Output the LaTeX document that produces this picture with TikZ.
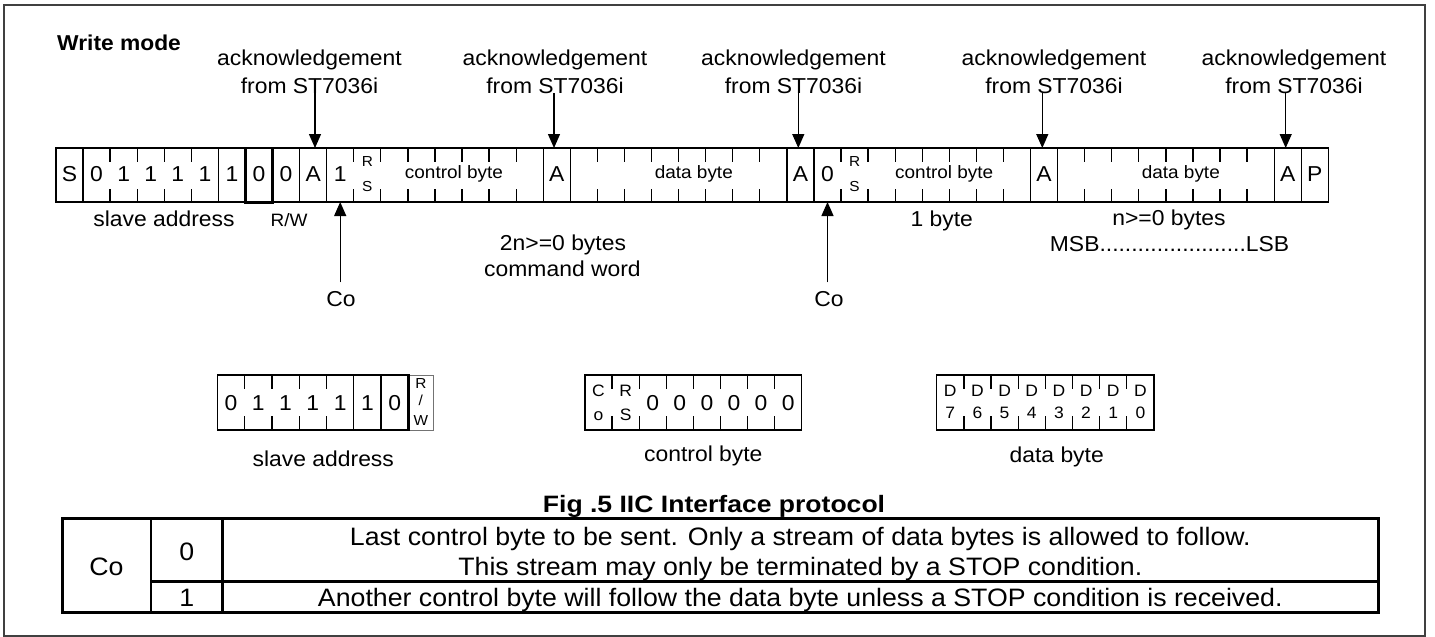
\documentclass[tikz,border=0pt]{standalone}
\usepackage{fontspec}
\setmainfont{Liberation Sans}[FakeStretch=1.06]
\newfontfamily\capfont{Liberation Sans}[FakeStretch=1.12]
\usetikzlibrary{arrows.meta}
\begin{document}
\begin{tikzpicture}[x=1pt,y=-1pt]
\tikzset{
  mainf/.style={font=\fontsize{21.6}{26}\selectfont, inner sep=0pt, anchor=base},
  smallf/.style={font=\fontsize{17.9}{21}\selectfont, inner sep=0pt, anchor=base},
  tinyf/.style={font=\fontsize{14.5}{16}\selectfont, inner sep=0pt, anchor=base},
  bitf/.style={font=\fontsize{16.5}{19}\selectfont, inner sep=0pt, anchor=base},
  tabf/.style={font=\fontsize{25.2}{30}\selectfont, inner sep=0pt, anchor=base},
  boldf/.style={font=\bfseries\fontsize{21.5}{24}\selectfont, inner sep=0pt, anchor=base},
  capf/.style={font=\capfont\bfseries\fontsize{23.7}{27}\selectfont, inner sep=0pt, anchor=base},
  cell/.style={line width=1.3pt},
  thickcell/.style={line width=2.4pt},
  tabline/.style={line width=2.5pt},
  ackarrow/.style={line width=1.3pt, -{Triangle[width=12pt,length=14pt]}},
}
\useasboundingbox (0,0) rectangle (1435,637);
% outer frame
\draw[line width=2pt, draw=black!75] (4,5) rectangle (1425,635.7);
\node[boldf, anchor=base west] (title) at (57,50) {Write mode};

% ---------------- main bit row ----------------
\def\rowL{56}\def\rowW{27.07}\def\rowT{148}\def\rowB{202}\def\tickL{13.5}
\draw[cell] (\rowL,\rowT) rectangle ({\rowL+47*\rowW},\rowB);
\foreach \i in {1,6,9,10,18,19,27,28,36,37,45,46}
  \draw[cell] ({\rowL+\i*\rowW},\rowT) -- ({\rowL+\i*\rowW},\rowB);
\foreach \i in {2,3,4,5,11,12,13,14,15,16,17,20,21,22,23,24,25,26,29,30,31,32,33,34,35,38,39,40,41,42,43,44}
  \draw[cell] ({\rowL+\i*\rowW},\rowT) -- ++(0,\tickL)
              ({\rowL+\i*\rowW},\rowB) -- ++(0,-\tickL);
\draw[thickcell] ({\rowL+7*\rowW},\rowT) rectangle ({\rowL+8*\rowW},{\rowB+1});
\foreach \i/\t in {0/S,1/0,2/1,3/1,4/1,5/1,6/1,7/0,8/0,9/A,10/1,18/A,27/A,28/0,36/A,45/A,46/P}
  \node[mainf] (c\i) at ({\rowL+(\i+0.5)*\rowW},181.7) {\t};
\foreach \i in {11,29}{
  \node[tinyf] (rr\i) at ({\rowL+(\i+0.5)*\rowW},166.7) {R};
  \node[tinyf] (ss\i) at ({\rowL+(\i+0.5)*\rowW},191.7) {S};
}
\node[smallf] (cb1) at (454,178.3) {control byte};
\node[smallf] (db1) at (693.8,178.3) {data byte};
\node[smallf] (cb2) at (944.2,178.3) {control byte};
\node[smallf] (db2) at (1180.8,178.3) {data byte};

% arrow end points on the row
\coordinate (t9) at (315,\rowT);
\coordinate (t18) at (554,\rowT);
\coordinate (t27) at (798.3,\rowT);
\coordinate (t36) at (1042.3,\rowT);
\coordinate (t45) at (1285.7,\rowT);
\coordinate (b10) at (340.2,\rowB);
\coordinate (b28) at (827.5,\rowB);

% acknowledgement labels and arrows
\foreach \k/\x/\c in {1/309.5/t9,2/555/t18,3/793.5/t27,4/1054/t36,5/1294/t45}{
  \node[mainf] (ackA\k) at (\x,65) {acknowledgement};
  \node[mainf] (ackB\k) at (\x,93.3) {from ST7036i};
  \draw[ackarrow] (ackB\k.base -| \c) -- (\c);
}

% labels under the row
\node[mainf] (sa1) at (164,226.7) {slave address};
\node[smallf] (rw1) at (289,226) {R/W};
\node[mainf] (onebyte) at (941.7,226.7) {1 byte};
\node[mainf] (nbytes) at (1169,225) {n>=0 bytes};
\node[mainf] (msb) at (1169.5,251.7) {MSB.......................LSB};
\node[mainf] (twon) at (563,250) {2n>=0 bytes};
\node[mainf] (cmd) at (562.5,276.7) {command word};
\node[mainf] (co1) at (341,306.7) {Co};
\node[mainf] (co2) at (829,306.7) {Co};
\draw[ackarrow, shorten <=9pt] (co1.north -| b10) -- (b10);
\draw[ackarrow, shorten <=9pt] (co2.north -| b28) -- (b28);

% ---------------- slave address box ----------------
\def\sL{217.3}\def\sW{27.3}\def\bT{375}\def\bB{430}\def\tickM{14}
\draw[line width=1pt, draw=black!55] ({\sL+7*\sW},\bT) rectangle (433.3,\bB);
\draw[cell] (\sL,\bT) rectangle ({\sL+7*\sW},\bB);
\foreach \i in {1,2,3,4}
  \draw[cell] ({\sL+\i*\sW},\bT) -- ++(0,\tickM) ({\sL+\i*\sW},\bB) -- ++(0,-\tickM);
\draw[cell] ({\sL+5*\sW},\bT) -- ({\sL+5*\sW},\bB);
\draw[thickcell] ({\sL+6*\sW},\bT) rectangle ({\sL+7*\sW},\bB);
\foreach \i/\t in {0/0,1/1,2/1,3/1,4/1,5/1,6/0}
  \node[mainf] (sb\i) at ({\sL+(\i+0.5)*\sW},410) {\t};
\node[tinyf] (sbr) at (420.8,388) {R};
\node[tinyf] (sbs) at (420.8,405) {/};
\node[tinyf] (sbw) at (420.8,425) {W};
\node[mainf] (sa2) at (323.3,466) {slave address};

% ---------------- control byte box ----------------
\def\cL{585}\def\cW{27.09}
\draw[cell] (\cL,\bT) rectangle ({\cL+8*\cW},\bB);
\foreach \i in {1,...,7}
  \draw[cell] ({\cL+\i*\cW},\bT) -- ++(0,\tickM) ({\cL+\i*\cW},\bB) -- ++(0,-\tickM);
\node[bitf] (cbC) at ({\cL+0.5*\cW},396.7) {C};
\node[bitf] (cbo) at ({\cL+0.5*\cW},420) {o};
\node[bitf] (cbR) at ({\cL+1.5*\cW},396.7) {R};
\node[bitf] (cbS) at ({\cL+1.5*\cW},420) {S};
\foreach \i in {2,...,7}
  \node[mainf] (cz\i) at ({\cL+(\i+0.5)*\cW},410) {0};
\node[mainf] (cb3) at (703.3,461.7) {control byte};

% ---------------- data byte box ----------------
\def\dL{936.7}\def\dW{27.16}
\draw[cell] (\dL,\bT) rectangle ({\dL+8*\dW},\bB);
\foreach \i in {1,...,7}
  \draw[cell] ({\dL+\i*\dW},\bT) -- ++(0,\tickM) ({\dL+\i*\dW},\bB) -- ++(0,-\tickM);
\foreach \i/\n in {0/7,1/6,2/5,3/4,4/3,5/2,6/1,7/0}{
  \node[bitf] (dD\i) at ({\dL+(\i+0.5)*\dW},396.7) {D};
  \node[bitf] (dN\i) at ({\dL+(\i+0.5)*\dW},418.3) {\n};
}
\node[mainf] (db3) at (1056.7,462.7) {data byte};

% ---------------- caption & table ----------------
\node[capf] (caption) at (714,512) {Fig .5 IIC Interface protocol};
\draw[tabline] (62.3,518.3) rectangle (1378.3,612.7);
\draw[tabline] (151,518.3) -- (151,612.7);
\draw[tabline] (222.3,518.3) -- (222.3,612.7);
\draw[tabline] (151,581.7) -- (1378.3,581.7);
\node[tabf] (tco) at (106.5,575) {Co};
\node[tabf] (t0) at (186.7,560) {0};
\node[tabf] (t1) at (186.7,606.7) {1};
\node[tabf] (tl1) at (800.3,545) {Last control byte to be sent. Only a stream of data bytes is allowed to follow.};
\node[tabf] (tl2) at (800.3,575) {This stream may only be terminated by a STOP condition.};
\node[tabf] (tl3) at (800.3,606.7) {Another control byte will follow the data byte unless a STOP condition is received.};
\end{tikzpicture}
\end{document}
